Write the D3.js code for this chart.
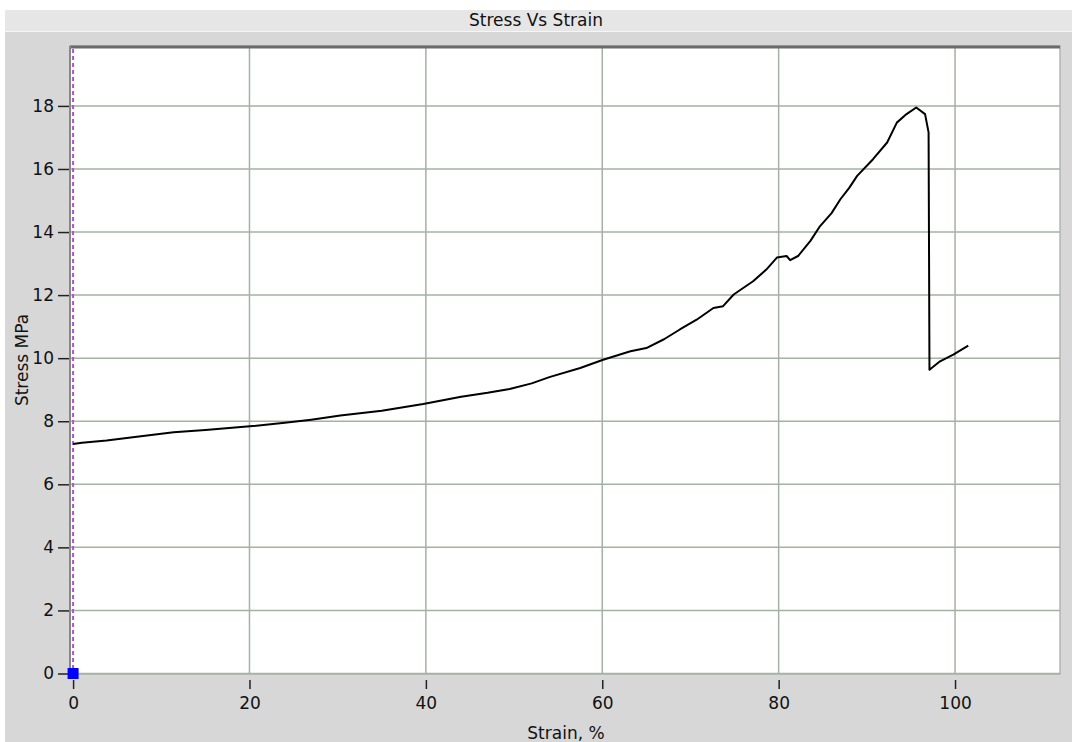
<!DOCTYPE html>
<html>
<head>
<meta charset="utf-8">
<script src="https://cdn.jsdelivr.net/npm/d3@7"></script>
<style>
  html, body { margin: 0; padding: 0; background: #fff; }
  svg { display: block; font-family: "DejaVu Sans", Arial, sans-serif; }
</style>
</head>
<body>
<svg id="chart" width="1072" height="742"></svg>
<script>
// values
const strain = [0, 1, 3.8, 7, 11.4, 15, 19.7, 24, 27, 30.3, 35, 39.7, 44, 47, 49.5, 52, 54, 57.5, 60.1, 63.2,
  65, 67, 68.8, 70.7, 72.6, 73.7, 74.9, 77.1, 78.6, 79.8, 80.9, 81.3, 82.2, 83.6, 84.7, 86, 87, 88, 88.9,
  90.7, 92.3, 93.4, 94.5, 95.6, 96.6, 97.0, 97.1, 98.3, 99.8, 101.5];
const stress = [7.28, 7.32, 7.39, 7.50, 7.65, 7.72, 7.83, 7.95, 8.05, 8.18, 8.33, 8.55, 8.78, 8.90, 9.02, 9.20, 9.40, 9.69, 9.95, 10.22,
  10.32, 10.60, 10.91, 11.22, 11.59, 11.65, 12.02, 12.44, 12.81, 13.19, 13.24, 13.11, 13.24, 13.72, 14.19, 14.60, 15.04, 15.40, 15.78,
  16.31, 16.84, 17.47, 17.74, 17.95, 17.74, 17.16, 9.63, 9.90, 10.11, 10.40];
const xTicks = [0, 20, 40, 60, 80, 100];
const yTicks = [0, 2, 4, 6, 8, 10, 12, 14, 16, 18];

const svg = d3.select('#chart');
const plot = { left: 70, right: 1060, top: 46, bottom: 674 };
const font = '"DejaVu Sans", Arial, sans-serif';

const x = d3.scaleLinear().domain([-0.35, 111.9]).range([plot.left, plot.right]);
const y = d3.scaleLinear().domain([0, 19.9]).range([673.5, plot.top]);

// panel background
svg.append('rect').attr('x', 5).attr('y', 10).attr('width', 1067).attr('height', 732).attr('fill', '#d7d7d7');
svg.append('rect').attr('x', 5).attr('y', 10).attr('width', 1067).attr('height', 22).attr('fill', '#e6e6e6');
svg.append('line').attr('x1', 5).attr('x2', 1072).attr('y1', 31.5).attr('y2', 31.5)
  .attr('stroke', '#f6f6f6').attr('stroke-width', 1);
svg.append('text').attr('x', 536).attr('y', 26).attr('text-anchor', 'middle')
  .attr('font-size', 17).attr('fill', '#111').text('Stress Vs Strain');

// plot area
svg.append('rect').attr('x', plot.left).attr('y', plot.top)
  .attr('width', plot.right - plot.left).attr('height', plot.bottom - plot.top)
  .attr('fill', '#fff').attr('stroke', '#b4b4b4').attr('stroke-width', 1.5);

// grid
svg.append('g').selectAll('line')
  .data(yTicks)
  .join('line')
  .attr('x1', plot.left).attr('x2', plot.right)
  .attr('y1', d => y(d)).attr('y2', d => y(d))
  .attr('stroke', '#a3b2a3').attr('stroke-width', 1.5);
svg.append('g').selectAll('line')
  .data(xTicks.filter(d => d > 0))
  .join('line')
  .attr('x1', d => x(d)).attr('x2', d => x(d))
  .attr('y1', plot.top).attr('y2', plot.bottom)
  .attr('stroke', '#a3b2a3').attr('stroke-width', 1.5);

// borders
svg.append('line').attr('x1', plot.left).attr('x2', plot.right).attr('y1', plot.top + 1).attr('y2', plot.top + 1)
  .attr('stroke', '#6a6a6a').attr('stroke-width', 3);
svg.append('line').attr('x1', plot.left).attr('x2', plot.left).attr('y1', plot.top).attr('y2', plot.bottom)
  .attr('stroke', '#888').attr('stroke-width', 2);

// marker line at zero strain
svg.append('line').attr('x1', x(0)).attr('x2', x(0)).attr('y1', plot.top + 3).attr('y2', plot.bottom)
  .attr('stroke', '#b34fd6').attr('stroke-width', 2).attr('stroke-dasharray', '4,3');

// axes
const yAxis = svg.append('g').attr('transform', `translate(${plot.left - 1},0)`)
  .call(d3.axisLeft(y).tickValues(yTicks).tickSize(11).tickPadding(4));
const xAxis = svg.append('g').attr('transform', `translate(0,${plot.bottom + 2})`)
  .call(d3.axisBottom(x).tickValues(xTicks).tickSize(13).tickPadding(8));
[yAxis, xAxis].forEach(a => {
  a.select('.domain').remove();
  a.selectAll('.tick line').attr('stroke', '#222').attr('stroke-width', 1.5);
  a.selectAll('.tick text').attr('font-size', 17).attr('fill', '#111').attr('font-family', font);
});
xAxis.selectAll('.tick line').attr('y1', 4);

svg.append('text').attr('x', 566).attr('y', 739).attr('text-anchor', 'middle')
  .attr('font-size', 17).attr('fill', '#111').text('Strain, %');
svg.append('text').attr('transform', 'translate(28,360) rotate(-90)').attr('text-anchor', 'middle')
  .attr('font-size', 17).attr('fill', '#111').text('Stress MPa');

// curve
const pts = strain.map((s, i) => [s, stress[i]]);
svg.append('path')
  .datum(pts)
  .attr('fill', 'none')
  .attr('stroke', '#000')
  .attr('stroke-width', 2)
  .attr('stroke-linejoin', 'round')
  .attr('d', d3.line().x(d => x(d[0])).y(d => y(d[1])));

// origin marker
svg.append('rect').attr('x', x(0) - 5.5).attr('y', y(0) - 5.5).attr('width', 11).attr('height', 11)
  .attr('fill', '#0000ff');
</script>
</body>
</html>
